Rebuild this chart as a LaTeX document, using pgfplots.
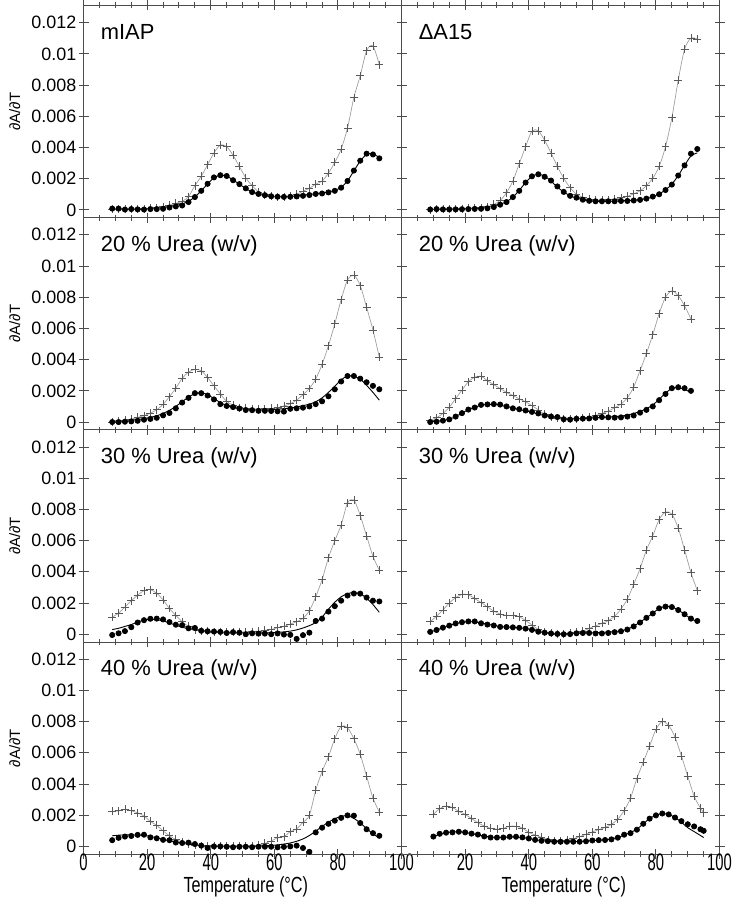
\documentclass[border=0pt]{standalone}
\usepackage{fontspec}
\setmainfont{Liberation Sans}
\usepackage{pgfplots}
\usepackage{pgfplotstable}
\pgfplotsset{compat=1.18}
\usepgfplotslibrary{groupplots}

% values in units of 10^-3 (dA/dT)
\pgfplotstableread{
T c d f
9 0.05 0.08 0.05
11 0.05 0.08 0.05
13 0.05 0.02 0.05
15 0.05 0.05 0.05
17 0.06 0.03 0.06
19 0.07 0.02 0.07
21 0.10 0.05 0.09
23 0.15 0.05 0.12
25 0.20 0.07 0.16
27 0.30 0.15 0.21
29 0.42 0.22 0.28
31 0.55 0.28 0.38
33 0.85 0.50 0.55
35 1.55 0.82 0.83
37 2.15 1.22 1.22
39 2.90 1.67 1.66
41 3.65 2.08 2.05
43 4.15 2.22 2.22
45 4.05 2.17 2.16
47 3.50 1.90 1.92
49 2.78 1.65 1.64
51 2.05 1.38 1.37
53 1.55 1.14 1.15
55 1.15 1.02 1.00
57 0.97 0.94 0.92
59 0.88 0.87 0.87
61 0.84 0.84 0.84
63 0.84 0.83 0.84
65 0.88 0.84 0.86
67 1.00 0.86 0.89
69 1.20 0.90 0.94
71 1.38 0.95 0.99
73 1.65 1.02 1.04
75 1.85 1.05 1.09
77 2.35 1.12 1.15
79 3.05 1.22 1.25
81 3.90 1.42 1.45
83 5.25 1.85 1.85
85 7.20 2.52 2.50
87 8.60 3.15 3.12
89 10.20 3.60 3.55
91 10.50 3.55 3.58
93 9.30 3.30 3.35
}\tabA

\pgfplotstableread{
T c d f
9 0.02 0.02 0.02
11 0.05 0.05 0.03
13 0.05 0.03 0.04
15 0.05 0.03 0.05
17 0.06 0.03 0.06
19 0.08 0.04 0.07
21 0.10 0.05 0.09
23 0.12 0.06 0.11
25 0.14 0.07 0.14
27 0.20 0.10 0.18
29 0.35 0.18 0.25
31 0.60 0.33 0.36
33 1.10 0.50 0.52
35 1.85 0.82 0.82
37 2.95 1.22 1.25
39 4.05 1.75 1.75
41 5.05 2.15 2.15
43 5.06 2.28 2.28
45 4.45 2.12 2.15
47 3.65 1.88 1.85
49 2.78 1.50 1.45
51 2.03 1.15 1.15
53 1.42 0.90 0.90
55 1.00 0.78 0.76
57 0.80 0.65 0.65
59 0.70 0.58 0.58
61 0.63 0.55 0.55
63 0.63 0.55 0.54
65 0.66 0.55 0.55
67 0.70 0.55 0.56
69 0.77 0.57 0.58
71 0.87 0.57 0.60
73 1.03 0.60 0.62
75 1.22 0.64 0.66
77 1.55 0.72 0.72
79 2.03 0.85 0.84
81 2.78 1.00 1.02
83 4.05 1.27 1.28
85 5.90 1.62 1.65
87 8.30 2.20 2.20
89 10.30 2.85 2.85
91 11.00 3.60 3.45
93 10.95 3.90 3.65
}\tabB

\pgfplotstableread{
T c d f
9 0.00 0.00 0.05
11 0.05 0.00 0.07
13 0.10 0.02 0.09
15 0.18 0.04 0.12
17 0.30 0.08 0.16
19 0.41 0.15 0.22
21 0.57 0.20 0.30
23 0.79 0.27 0.40
25 1.13 0.43 0.55
27 1.63 0.58 0.75
29 2.17 0.88 1.00
31 2.80 1.25 1.30
33 3.20 1.55 1.60
35 3.38 1.85 1.82
37 3.28 1.85 1.88
39 2.85 1.70 1.75
41 2.32 1.45 1.50
43 1.80 1.15 1.25
45 1.32 1.03 1.05
47 1.09 0.96 0.93
49 0.93 0.87 0.86
51 0.88 0.77 0.82
53 0.84 0.76 0.80
55 0.84 0.72 0.78
57 0.86 0.72 0.78
59 0.88 0.71 0.80
61 0.92 0.69 0.83
63 1.03 0.67 0.86
65 1.17 0.85 0.90
67 1.41 0.88 0.97
69 1.75 0.92 1.05
71 2.15 1.00 1.15
73 2.76 1.15 1.30
75 3.70 1.33 1.55
77 4.90 1.65 1.90
79 6.30 2.10 2.30
81 7.85 2.60 2.70
83 9.10 2.95 2.95
85 9.40 2.95 2.92
87 8.75 2.78 2.75
89 7.35 2.55 2.35
91 5.90 2.32 1.90
93 4.15 2.10 1.40
}\tabC

\pgfplotstableread{
T c d f
9 0.12 0.00 0.02
11 0.28 0.02 0.05
13 0.55 0.09 0.10
15 0.95 0.17 0.18
17 1.50 0.35 0.35
19 2.05 0.57 0.57
21 2.58 0.80 0.80
23 2.88 0.93 0.95
25 2.93 1.10 1.07
27 2.65 1.13 1.13
29 2.40 1.15 1.13
31 2.15 1.12 1.08
33 1.90 1.00 1.00
35 1.70 0.88 0.90
37 1.48 0.82 0.80
39 1.30 0.74 0.72
41 1.05 0.65 0.63
43 0.78 0.55 0.52
45 0.50 0.42 0.42
47 0.35 0.35 0.35
49 0.25 0.32 0.30
51 0.22 0.18 0.25
53 0.21 0.16 0.22
55 0.21 0.21 0.22
57 0.24 0.22 0.23
59 0.30 0.23 0.25
61 0.42 0.27 0.28
63 0.55 0.32 0.30
65 0.70 0.30 0.32
67 0.92 0.28 0.35
69 1.15 0.30 0.38
71 1.55 0.35 0.45
73 2.25 0.42 0.55
75 3.30 0.60 0.68
77 4.40 0.78 0.85
79 5.60 1.00 1.10
81 6.95 1.40 1.45
83 8.00 1.80 1.85
85 8.40 2.17 2.15
87 8.10 2.23 2.20
89 7.45 2.17 2.10
91 6.60 2.00 1.88
}\tabD

\pgfplotstableread{
T c d f
9 1.10 -0.05 0.30
11 1.35 0.06 0.38
13 1.75 0.20 0.50
15 2.15 0.45 0.62
17 2.50 0.75 0.78
19 2.80 0.90 0.90
21 2.86 0.99 0.95
23 2.62 1.00 0.93
25 2.20 0.95 0.85
27 1.65 0.78 0.72
29 1.20 0.61 0.58
31 0.80 0.58 0.45
33 0.50 0.38 0.35
35 0.30 0.40 0.27
37 0.22 0.22 0.20
39 0.20 0.19 0.15
41 0.16 0.17 0.12
43 0.15 0.15 0.10
45 0.15 0.08 0.09
47 0.15 0.13 0.08
49 0.15 0.10 0.08
51 0.15 0.00 0.08
53 0.17 0.06 0.08
55 0.20 0.04 0.08
57 0.25 0.04 0.09
59 0.30 0.00 0.10
61 0.42 0.05 0.12
63 0.50 -0.02 0.15
65 0.65 -0.04 0.20
67 0.80 -0.30 0.28
69 1.02 -0.06 0.40
71 1.50 0.10 0.55
73 2.40 0.85 0.75
75 3.50 1.00 1.10
77 4.90 1.45 1.60
79 6.00 1.80 2.05
81 7.00 2.15 2.40
83 8.40 2.48 2.60
85 8.60 2.61 2.67
87 7.60 2.60 2.60
89 6.30 2.35 2.30
91 5.00 2.15 1.90
93 4.10 2.10 1.40
}\tabE

\pgfplotstableread{
T c d f
9 0.82 0.15 0.15
11 1.15 0.27 0.27
13 1.55 0.42 0.42
15 2.00 0.55 0.55
17 2.35 0.69 0.68
19 2.55 0.77 0.76
21 2.53 0.82 0.80
23 2.28 0.82 0.79
25 2.03 0.70 0.72
27 1.76 0.62 0.64
29 1.48 0.56 0.56
31 1.30 0.47 0.50
33 1.20 0.46 0.46
35 1.20 0.44 0.44
37 1.13 0.41 0.41
39 0.87 0.36 0.36
41 0.60 0.28 0.28
43 0.30 0.16 0.18
45 0.14 0.10 0.10
47 0.06 0.05 0.05
49 0.02 0.02 0.03
51 0.04 0.00 0.03
53 0.08 0.01 0.04
55 0.13 0.06 0.06
57 0.19 0.08 0.07
59 0.38 0.08 0.09
61 0.53 0.05 0.10
63 0.70 0.05 0.12
65 0.86 0.08 0.14
67 1.15 0.13 0.17
69 1.62 0.19 0.22
71 2.25 0.30 0.32
73 3.20 0.50 0.52
75 4.20 0.75 0.78
77 5.40 1.05 1.05
79 6.30 1.33 1.35
81 7.35 1.66 1.65
83 7.83 1.77 1.78
85 7.70 1.74 1.75
87 6.80 1.55 1.55
89 5.40 1.28 1.28
91 3.95 1.00 1.00
93 2.80 0.85 0.80
}\tabF

\pgfplotstableread{
T c d f
9 2.26 0.40 0.68
11 2.28 0.55 0.72
13 2.38 0.63 0.74
15 2.28 0.67 0.74
17 2.15 0.74 0.72
19 1.95 0.75 0.70
21 1.60 0.58 0.64
23 1.35 0.52 0.55
25 1.00 0.42 0.45
27 0.68 0.40 0.36
29 0.45 0.25 0.28
31 0.27 0.22 0.20
33 0.17 0.24 0.15
35 0.08 0.15 0.10
37 0.04 0.05 0.06
39 0.02 -0.10 0.04
41 0.00 0.00 0.03
43 0.00 0.00 0.02
45 0.00 -0.02 0.02
47 0.00 -0.05 0.02
49 0.00 -0.02 0.02
51 0.00 -0.02 0.02
53 0.02 -0.05 0.02
55 0.08 -0.02 0.03
57 0.20 -0.02 0.04
59 0.35 -0.02 0.06
61 0.55 -0.06 0.10
63 0.62 -0.03 0.15
65 0.95 0.00 0.22
67 1.12 0.05 0.33
69 1.55 -0.10 0.48
71 2.00 -0.35 0.70
73 3.60 0.90 0.98
75 4.80 1.20 1.28
77 5.75 1.45 1.55
79 6.90 1.65 1.78
81 7.70 1.83 1.92
83 7.60 1.99 1.97
85 6.90 1.97 1.80
87 5.90 1.50 1.50
89 4.50 1.10 1.15
91 3.10 0.85 0.80
93 2.20 0.68 0.55
}\tabG

\pgfplotstableread{
T c d f
10 2.05 0.63 0.62
12 2.42 0.81 0.78
14 2.58 0.88 0.88
16 2.50 0.90 0.93
18 2.24 0.94 0.94
20 2.05 0.90 0.90
22 1.79 0.82 0.82
24 1.52 0.76 0.74
26 1.30 0.64 0.66
28 1.16 0.57 0.60
30 1.10 0.57 0.58
32 1.15 0.57 0.59
34 1.30 0.62 0.60
36 1.28 0.62 0.60
38 1.18 0.58 0.57
40 0.89 0.51 0.50
42 0.74 0.42 0.43
44 0.58 0.36 0.37
46 0.43 0.34 0.33
48 0.37 0.30 0.31
50 0.36 0.30 0.30
52 0.39 0.30 0.30
54 0.49 0.30 0.31
56 0.63 0.30 0.32
58 0.77 0.33 0.34
60 0.93 0.38 0.37
62 1.07 0.40 0.40
64 1.22 0.41 0.43
66 1.41 0.45 0.48
68 1.75 0.56 0.58
70 2.30 0.75 0.72
72 3.10 0.85 0.90
74 4.35 1.07 1.10
76 5.40 1.45 1.45
78 6.43 1.78 1.78
80 7.50 1.99 2.00
82 8.00 2.11 2.10
84 7.75 2.05 2.05
86 7.00 1.85 1.85
88 5.80 1.62 1.55
90 4.50 1.42 1.20
92 3.23 1.28 0.95
94 2.45 1.10 0.70
95 2.17 1.00 0.57
}\tabH

\newcommand{\panel}[2]{%
  \addplot[gray!75, line width=0.35pt, smooth] table[x=T,y=c]{#1};
  \addplot[only marks, mark=+, mark size=2pt, gray!70!black, mark options={line width=0.35pt}] table[x=T,y=c]{#1};
  \addplot[black, line width=0.45pt, smooth] table[x=T,y=f]{#1};
  \addplot[only marks, mark=*, mark size=1.3pt, black] table[x=T,y=d]{#1};
  \node[anchor=base west, font=\fontsize{11}{13}\selectfont, inner sep=0pt] at (axis description cs:0.053,0.84) {#2};
}

\begin{document}
\begin{tikzpicture}
\begin{groupplot}[
  group style={group size=2 by 4, horizontal sep=0pt, vertical sep=0pt},
  width=159.75pt, height=106.6pt, scale only axis,
  xmin=0, xmax=100, ymin=-0.5, ymax=13.1,
  xtick={0,20,40,60,80,100}, minor x tick num=3,
  ytick={0,2,4,6,8,10,12},
  tick align=center, major tick length=5pt, minor tick length=3pt,
  axis line style={gray!60!black, line width=0.5pt},
  every tick/.style={gray!60!black, line width=0.5pt},
  /pgf/number format/assume math mode=true,
  yticklabel style={font=\fontsize{9}{10}\selectfont, inner sep=1pt},
  xticklabel style={font=\fontsize{12}{12}\selectfont, xscale=0.62, inner sep=0pt, yshift=3pt},
  leftp/.style={yticklabels={0,0.002,0.004,0.006,0.008,0.01,0.012},
     ylabel={∂A/∂T},
     ylabel style={at={(axis description cs:-0.216,0.5)}, anchor=center, font=\fontsize{7.5}{9}\selectfont}},
  rightp/.style={yticklabels={}},
  nox/.style={xticklabels={}},
  botx/.style={xlabel={Temperature (°C)},
     xlabel style={at={(axis description cs:0.51,0)}, anchor=base, yshift=-19pt, inner sep=0pt, font=\fontsize{11}{12}\selectfont, xscale=0.74}},
]
\nextgroupplot[leftp, nox]
\panel{\tabA}{mIAP}
\nextgroupplot[rightp, nox]
\panel{\tabB}{ΔA15}
\nextgroupplot[leftp, nox]
\panel{\tabC}{20 \% Urea (w/v)}
\nextgroupplot[rightp, nox]
\panel{\tabD}{20 \% Urea (w/v)}
\nextgroupplot[leftp, nox]
\panel{\tabE}{30 \% Urea (w/v)}
\nextgroupplot[rightp, nox]
\panel{\tabF}{30 \% Urea (w/v)}
\nextgroupplot[leftp, botx]
\panel{\tabG}{40 \% Urea (w/v)}
\nextgroupplot[rightp, botx, xticklabels={,20,40,60,80,100}]
\panel{\tabH}{40 \% Urea (w/v)}
\end{groupplot}
\path ([xshift=-42pt, yshift=2.5pt]group c1r1.north west) rectangle ([xshift=12.5pt, yshift=-21.5pt]group c2r4.south east);
\end{tikzpicture}
\end{document}
